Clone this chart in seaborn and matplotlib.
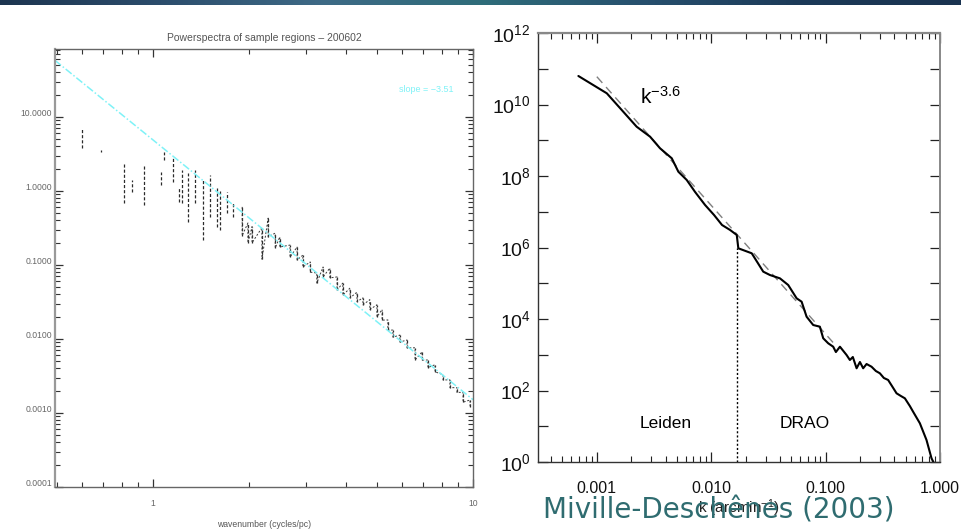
import numpy as np
import matplotlib
matplotlib.use("Agg")
import matplotlib.pyplot as plt
from matplotlib.colors import to_rgb
from matplotlib.ticker import FixedLocator, FixedFormatter, LogLocator, NullFormatter, NullLocator
from matplotlib.transforms import ScaledTranslation
import seaborn as sns

# ---------------- Left panel: power spectra of sample regions ----------------
wavenumber = [0.60, 0.69, 0.81, 0.86, 0.94, 1.06, 1.08, 1.155, 1.21,
              1.23, 1.29, 1.35, 1.43, 1.51, 1.58, 1.62, 1.70, 1.78, 1.90,
              1.98, 2.04, 2.19, 2.29, 2.41, 2.49, 2.68, 2.82, 2.94, 3.10,
              3.25, 3.40, 3.57, 3.76, 3.92, 4.13, 4.34, 4.53, 4.76, 5.01,
              5.20, 5.42, 5.62, 5.91, 6.22, 6.59, 6.93, 7.23, 7.61, 8.06,
              8.47, 8.91, 9.31, 9.79]
power_low = [3.8, 3.4, 0.69, 0.97, 0.65, 1.21, 2.62, 1.32, 0.71,
             0.69, 0.38, 0.69, 0.22, 0.45, 0.33, 0.30, 0.50, 0.45, 0.25,
             0.20, 0.20, 0.12, 0.24, 0.17, 0.175, 0.128, 0.117, 0.094, 0.080,
             0.057, 0.069, 0.067, 0.046, 0.039, 0.036, 0.032, 0.029, 0.025, 0.020,
             0.018, 0.0132, 0.0106, 0.0091, 0.0076, 0.0052, 0.0052, 0.0041, 0.0036, 0.0028,
             0.0022, 0.0019, 0.0014, 0.0012]
power_high = [7.1, 3.6, 2.4, 1.4, 2.25, 1.81, 3.37, 2.88, 1.13,
              1.92, 1.75, 1.92, 1.41, 1.64, 1.13, 1.03, 0.97, 0.69, 0.61,
              0.37, 0.33, 0.32, 0.43, 0.27, 0.24, 0.186, 0.175, 0.136, 0.110,
              0.078, 0.094, 0.091, 0.069, 0.057, 0.049, 0.043, 0.036, 0.034, 0.029,
              0.025, 0.0181, 0.0132, 0.0113, 0.0097, 0.0076, 0.0067, 0.0052, 0.0045, 0.0033,
              0.0028, 0.0022, 0.0019, 0.0015]
fit_slope = -3.51
fit_amplitude = 4.9          # power of the fit at 1 cycle/pc
left_xticks = [1, 10]
left_xticklabels = ["1", "10"]
left_yticks = [1e-4, 1e-3, 1e-2, 1e-1, 1, 10]
left_yticklabels = ["0.0001", "0.0010", "0.0100", "0.1000", "1.0000", "10.0000"]

# ---------------- Right panel: Leiden + DRAO composite spectrum ----------------
k_arcmin = [6.90e-4, 1.222e-3, 2.23e-3, 2.92e-3, 3.57e-3, 4.52e-3, 5.16e-3, 6.11e-3,
            7.23e-3, 8.83e-3, 1.059e-2, 1.243e-2, 1.462e-2, 1.672e-2, 1.726e-2, 2.26e-2,
            2.85e-2, 3.26e-2, 3.99e-2, 4.71e-2, 5.58e-2, 6.17e-2, 6.82e-2, 7.79e-2,
            8.91e-2, 9.53e-2, 0.1054, 0.1165, 0.123, 0.1334, 0.1525, 0.163,
            0.173, 0.1866, 0.1995, 0.213, 0.228, 0.252, 0.275, 0.298,
            0.323, 0.352, 0.380, 0.417, 0.455, 0.493, 0.545, 0.582,
            0.667, 0.762, 0.843, 0.875, 0.90]
power_spec = [6.27e10, 2.06e10, 2.39e9, 1.26e9, 5.96e8, 3.13e8, 1.32e8, 7.73e7,
              3.57e7, 1.55e7, 8.1e6, 4.26e6, 3.09e6, 2.24e6, 9.5e5, 6.89e5,
              2.11e5, 1.70e5, 1.37e5, 8.93e4, 3.79e4, 3.05e4, 1.16e4, 6.79e3,
              6.09e3, 2.89e3, 2.09e3, 1.68e3, 1.19e3, 1.68e3, 984, 713,
              865, 418, 627, 418, 551, 463, 351, 303,
              224, 197, 134, 83.5, 70.2, 60.5, 36.8, 25.5,
              12.1, 4.13, 1.27, 1.0, 0.6]
model_index = -3.6
model_k0 = 1e-3
model_p0 = 6.0e10
model_kmax = 0.12
survey_boundary = 0.0169
boundary_top = 9.5e5
right_xticks = [0.001, 0.01, 0.1, 1.0]
right_xticklabels = ["0.001", "0.010", "0.100", "1.000"]
right_exponents = list(range(0, 13))

sns.set_theme(style="ticks")
plt.rcParams["font.family"] = ["Liberation Sans", "DejaVu Sans"]
plt.rcParams["mathtext.fontset"] = "custom"
plt.rcParams["mathtext.rm"] = "Liberation Sans"
plt.rcParams["mathtext.it"] = "Liberation Sans"

fig = plt.figure(figsize=(9.61, 5.29), dpi=100)
fig.patch.set_facecolor("white")

# thin dark banner along the top of the slide
stops = ["#1d3550", "#2c4d6c", "#3e6a86", "#2f6d7a", "#27506e", "#1c3a58", "#1a3350"]
pos = np.linspace(0, 1, len(stops))
xs = np.linspace(0, 1, 400)
rgb = np.array([to_rgb(c) for c in stops])
band = np.stack([np.interp(xs, pos, rgb[:, i]) for i in range(3)], axis=-1)[None, :, :]
bax = fig.add_axes([0, 1 - 5 / 529, 1, 5 / 529])
bax.imshow(band, aspect="auto")
bax.set_axis_off()

# ---------------- left axes ----------------
ax1 = fig.add_axes([55 / 961, 42 / 529, 418 / 961, 438 / 529])
ax1.set_xscale("log")
ax1.set_yscale("log")
ax1.set_xlim(0.494, 10)
ax1.set_ylim(1e-4, 83)

ax1.vlines(wavenumber, power_low, power_high, colors="#2b2b2b",
           linestyles=(0, (2.5, 1.6)), linewidth=0.9)
# where the bins sit close together the spectra run as one jagged dashed trace
k_arr = np.asarray(wavenumber)
dense = k_arr >= 1.9
zig_k = np.repeat(k_arr[dense], 2)
zig_p = np.column_stack([np.asarray(power_high)[dense],
                         np.asarray(power_low)[dense]]).ravel()
ax1.plot(zig_k, zig_p, color="#3a3a3a", linewidth=0.7, linestyle=(0, (2, 1.8)))

kfit = np.geomspace(0.494, 10, 60)
sns.lineplot(x=kfit, y=fit_amplitude * kfit ** fit_slope, ax=ax1, color="#7ff2f7",
             linewidth=1.1, linestyle=(0, (5, 1.5, 1, 1.5)), estimator=None, sort=False)
ax1.text(0.823, 0.907, "slope = \u22123.51", transform=ax1.transAxes, color="#7ff2f7",
         fontsize=6.5, ha="left", va="center")

ax1.xaxis.set_major_locator(FixedLocator(left_xticks))
ax1.xaxis.set_major_formatter(FixedFormatter(left_xticklabels))
ax1.xaxis.set_minor_locator(LogLocator(base=10, subs=np.arange(2, 10)))
ax1.xaxis.set_minor_formatter(NullFormatter())
ax1.yaxis.set_major_locator(FixedLocator(left_yticks))
ax1.yaxis.set_major_formatter(FixedFormatter(left_yticklabels))
ax1.yaxis.set_minor_locator(LogLocator(base=10, subs=np.arange(2, 10)))
ax1.yaxis.set_minor_formatter(NullFormatter())
ax1.tick_params(which="both", direction="in", top=True, right=True, color="#333333",
                labelcolor="#666666", labelsize=6.2)
ax1.tick_params(which="major", length=6, width=0.9)
ax1.tick_params(which="minor", length=3.5, width=0.8)
ax1.tick_params(axis="x", pad=9)
ax1.tick_params(axis="y", pad=2)
for t in ax1.get_yticklabels():
    t.set_transform(t.get_transform() + ScaledTranslation(0, 3 / 72, fig.dpi_scale_trans))
for side, sp in ax1.spines.items():
    sp.set_color("#666666")
    sp.set_linewidth(1.0)
ax1.spines["left"].set_color("#999999")
ax1.spines["left"].set_linewidth(1.6)
ax1.set_title("Powerspectra of sample regions \u2013 200602", fontsize=7.5,
              color="#555555", pad=6)
ax1.set_xlabel("wavenumber (cycles/pc)", fontsize=6.2, color="#555555", labelpad=8)
ax1.grid(False)

# ---------------- right axes ----------------
ax2 = fig.add_axes([537.5 / 961, 67 / 529, 402.5 / 961, 429 / 529])
ax2.set_xscale("log")
ax2.set_yscale("log")
ax2.set_xlim(3.03e-4, 1.0)
ax2.set_ylim(1, 1e12)

kmod = np.geomspace(model_k0, model_kmax, 40)
sns.lineplot(x=kmod, y=model_p0 * (kmod / model_k0) ** model_index, ax=ax2,
             color="#808080", linewidth=1.0, linestyle=(0, (6, 4)),
             estimator=None, sort=False)
sns.lineplot(x=k_arcmin, y=power_spec, ax=ax2, color="black", linewidth=1.5,
             estimator=None, sort=False)
ax2.vlines(survey_boundary, 1, boundary_top, colors="black",
           linestyles=(0, (1.5, 1.5)), linewidth=1.0)

ax2.text(0.254, 0.851, r"k$^{-3.6}$", transform=ax2.transAxes, fontsize=15,
         ha="left", va="center", color="black")
ax2.text(0.318, 0.089, "Leiden", transform=ax2.transAxes, fontsize=12.5,
         ha="center", va="center", color="black")
ax2.text(0.664, 0.089, "DRAO", transform=ax2.transAxes, fontsize=12.5,
         ha="center", va="center", color="black")

ax2.xaxis.set_major_locator(FixedLocator(right_xticks))
ax2.xaxis.set_major_formatter(FixedFormatter(right_xticklabels))
ax2.xaxis.set_minor_locator(LogLocator(base=10, subs=np.arange(2, 10)))
ax2.xaxis.set_minor_formatter(NullFormatter())
ax2.yaxis.set_major_locator(FixedLocator([10.0 ** e for e in right_exponents]))
ax2.yaxis.set_major_formatter(FixedFormatter(
    [r"$10^{%d}$" % e if e % 2 == 0 else "" for e in right_exponents]))
ax2.yaxis.set_minor_locator(NullLocator())
ax2.tick_params(which="both", direction="in", top=True, right=True, color="#222222",
                labelcolor="#111111")
ax2.tick_params(which="major", length=7, width=0.9)
ax2.tick_params(which="minor", length=4, width=0.8)
ax2.tick_params(axis="x", labelsize=11.5, pad=14)
ax2.tick_params(axis="y", labelsize=14, pad=5)
for side, sp in ax2.spines.items():
    sp.set_color("#333333")
    sp.set_linewidth(1.0)
ax2.spines["top"].set_color("#888888")
ax2.spines["top"].set_linewidth(1.6)
ax2.spines["right"].set_color("#888888")
ax2.spines["right"].set_linewidth(1.4)
ax2.set_xlabel(r"k (arcmin$^{-1}$)", fontsize=11, color="#222222", labelpad=1)
ax2.grid(False)

# citation sits on top of the axis label, as on the slide
fig.text(543 / 961, 19 / 529, "Miville-Desch\u00eanes (2003)", fontsize=20,
         color="#2f6c70", ha="left", va="center", family=["DejaVu Sans"], zorder=10)

fig.savefig("out.png", dpi=100, facecolor="white")
